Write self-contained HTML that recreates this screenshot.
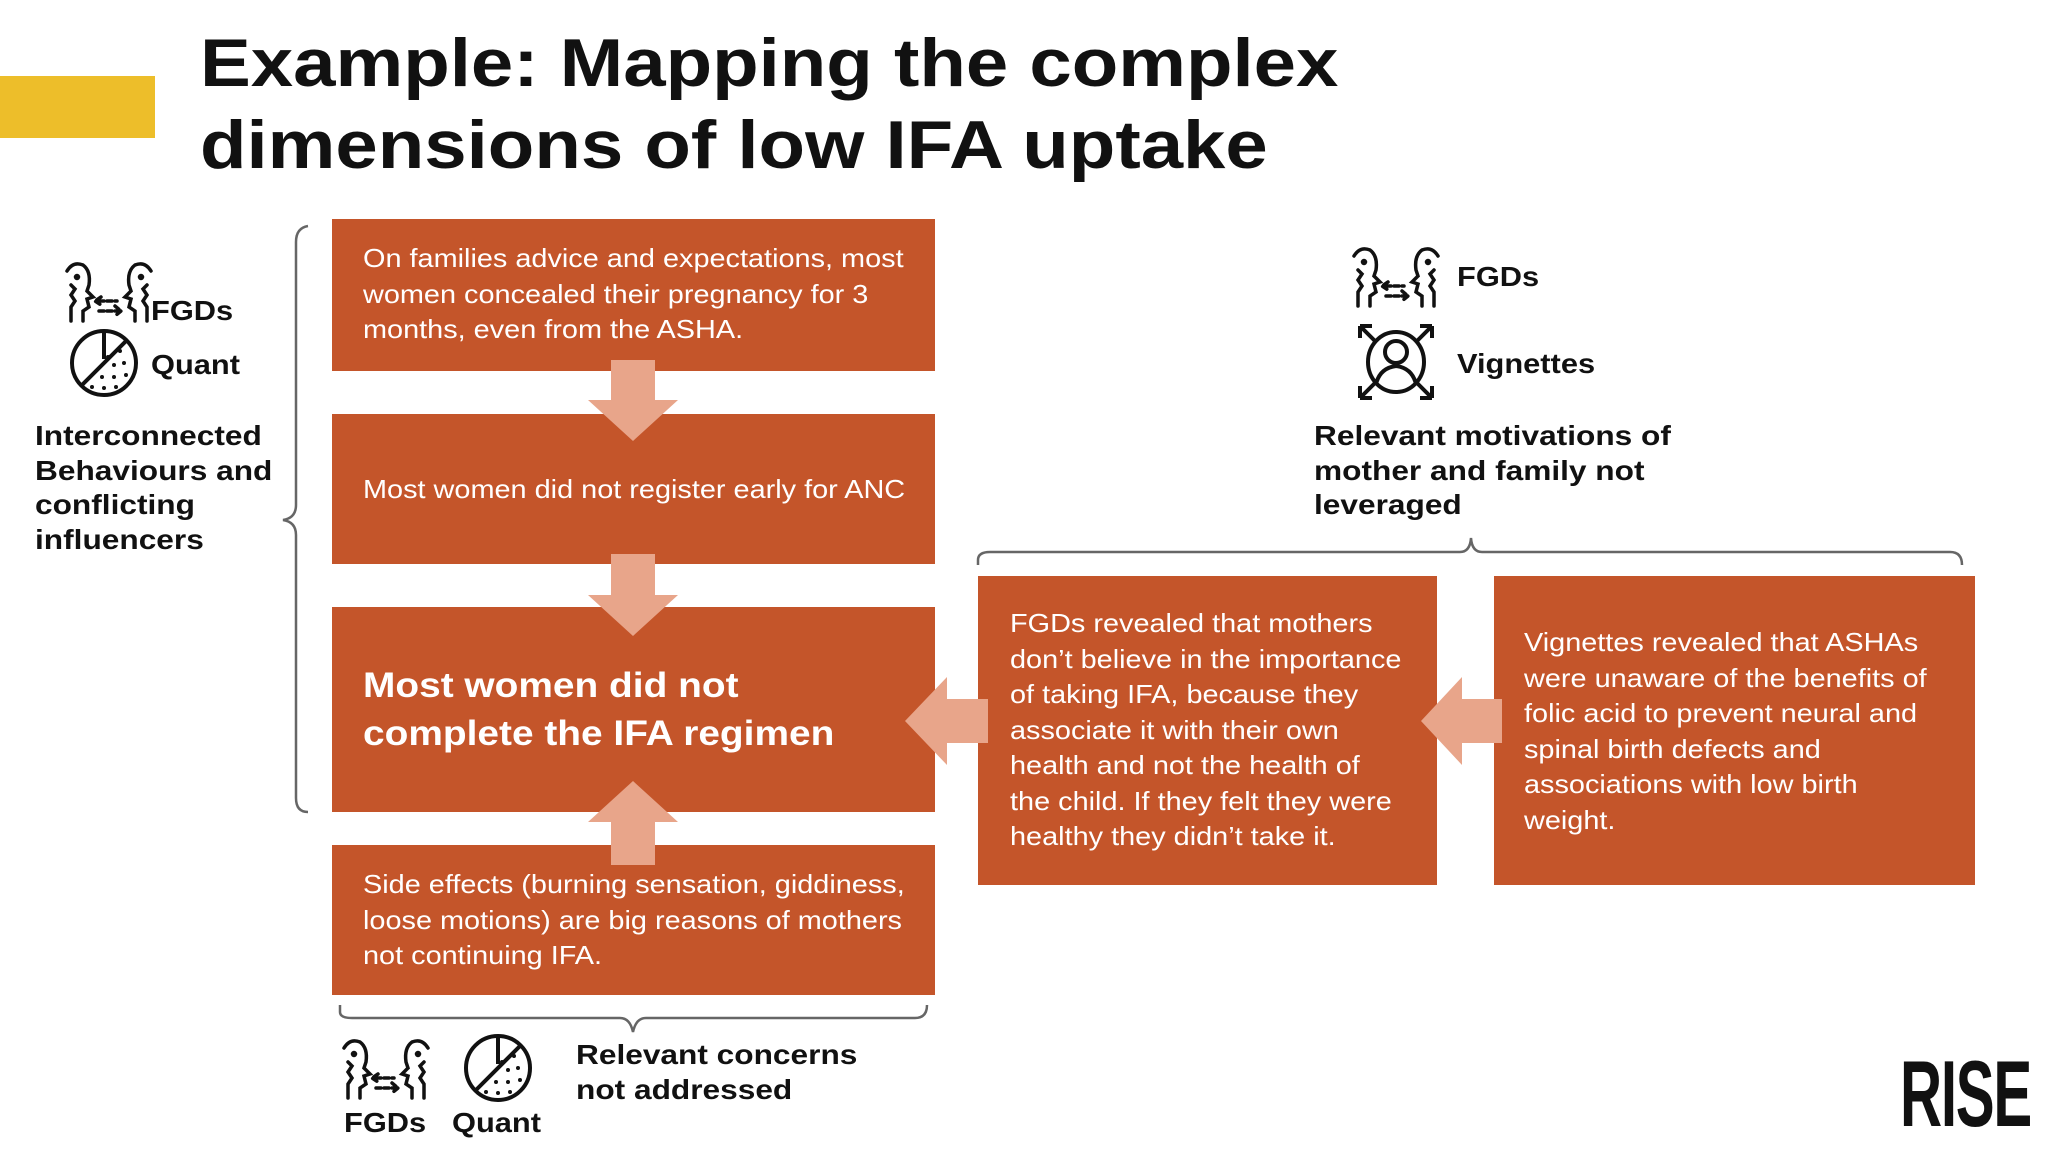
<!DOCTYPE html>
<html><head><meta charset="utf-8"><style>
body{margin:0;width:2048px;height:1154px;background:#fff;position:relative;overflow:hidden;font-family:"Liberation Sans",sans-serif;color:#111}
.a{position:absolute}
.box{position:absolute;background:#C4552A}
.t{position:absolute;color:#fff;font-size:26px;line-height:35.5px;white-space:nowrap;transform:scaleX(1.11);transform-origin:left top}
.lbl{position:absolute;font-weight:bold;font-size:28px;line-height:34.5px;white-space:nowrap;color:#111;transform:scaleX(1.13);transform-origin:left top}
.ic{position:absolute;font-weight:bold;font-size:28px;white-space:nowrap;color:#111;transform:scaleX(1.1);transform-origin:left top}
</style></head><body>
<div class="a" style="left:0;top:76px;width:155px;height:62px;background:#EDBE2A"></div>
<div class="a" style="left:200px;top:22px;font-weight:bold;font-size:68px;line-height:82px;white-space:nowrap;color:#111;transform:scaleX(1.12);transform-origin:left top">Example: Mapping the complex<br>dimensions of low IFA uptake</div>

<div class="box" style="left:332px;top:219px;width:603px;height:152px"></div>
<div class="box" style="left:332px;top:414px;width:603px;height:150px"></div>
<div class="box" style="left:332px;top:607px;width:603px;height:205px"></div>
<div class="box" style="left:332px;top:845px;width:603px;height:150px"></div>
<div class="box" style="left:978px;top:576px;width:459px;height:309px"></div>
<div class="box" style="left:1494px;top:576px;width:481px;height:309px"></div>

<svg class="a" style="left:0;top:0" width="2048" height="1154">
<g fill="#E8A58A">
<polygon points="611,360 655,360 655,400 678,400 633,441 588,400 611,400"/>
<polygon points="611,554 655,554 655,595 678,595 633,636 588,595 611,595"/>
<polygon points="611,865 655,865 655,822 678,822 633,781 588,822 611,822"/>
<polygon points="988,699 947,699 947,677 905,721 947,765 947,743 988,743"/>
<polygon points="1502,699 1462,699 1462,677 1421,721 1462,765 1462,743 1502,743"/>
</g>
<g fill="none" stroke="#666" stroke-width="2.5">
<path d="M308,226 Q296,228 296,242 L296,505 Q296,518 283,520 Q296,522 296,535 L296,798 Q296,812 308,812"/>
<path d="M978,565 L978,560 Q978,552 990,552 L1460,552 Q1470,552 1471,538 Q1472,552 1482,552 L1950,552 Q1962,552 1962,565"/>
<path d="M340,1005 L340,1012 Q340,1018 352,1018 L620,1018 Q630,1018 633,1032 Q636,1018 646,1018 L915,1018 Q927,1018 927,1005"/>
</g>
<defs>
<g id="fgd" fill="none" stroke="#111" stroke-width="3.5" stroke-linecap="round">
<path d="M2,10 Q8,0 18,4 Q26,10 24,24 L22,30 L28,36 L22,38 L24,46 L18,50 L18,60"/>
<path d="M6,24 L10,28 L6,34 L10,40 L6,46 L6,60"/>
<circle cx="12" cy="16" r="1.5" fill="#111"/>
<path d="M86,10 Q80,0 70,4 Q62,10 64,24 L66,30 L60,36 L66,38 L64,46 L70,50 L70,60"/>
<circle cx="76" cy="16" r="1.5" fill="#111"/>
<path d="M82,24 L78,28 L82,34 L78,40 L82,46 L82,60"/>
<path d="M36,36 L30,40 L36,44 M34,40 L52,40" stroke-dasharray="5 3"/>
<path d="M34,50 L56,50 M50,45 L56,50 L50,55" stroke-dasharray="5 3"/>
</g>
<g id="quant">
<circle cx="0" cy="0" r="32" fill="none" stroke="#111" stroke-width="4"/>
<path d="M0,-32 L0,-4 M-23,23 L23,-23" stroke="#111" stroke-width="4"/>
<g fill="#111"><circle cx="10" cy="2" r="2"/><circle cx="20" cy="0" r="2"/><circle cx="-2" cy="14" r="2"/><circle cx="10" cy="14" r="2"/><circle cx="22" cy="12" r="2"/><circle cx="-12" cy="24" r="2"/><circle cx="0" cy="25" r="2"/><circle cx="12" cy="24" r="2"/><circle cx="4" cy="-6" r="2"/><circle cx="16" cy="-12" r="2"/></g>
</g>
</defs>
<use href="#fgd" x="65" y="261"/>
<use href="#quant" x="104" y="363"/>
<use href="#fgd" x="1352" y="246"/>
<use href="#fgd" x="342" y="1038"/>
<use href="#quant" x="498" y="1068"/>
<g fill="none" stroke="#111" stroke-width="4">
<ellipse cx="1396" cy="362" rx="28" ry="30"/>
<circle cx="1396" cy="352" r="11"/>
<path d="M1376,384 Q1380,368 1396,366 Q1412,368 1416,384"/>
<path d="M1360,326 L1376,342 M1360,326 L1360,338 M1360,326 L1372,326"/>
<path d="M1432,326 L1416,342 M1432,326 L1432,338 M1432,326 L1420,326"/>
<path d="M1360,398 L1376,382 M1360,398 L1360,386 M1360,398 L1372,398"/>
<path d="M1432,398 L1416,382 M1432,398 L1432,386 M1432,398 L1420,398"/>
</g>
</svg>

<div class="t" style="left:363px;top:241px">On families advice and expectations, most<br>women concealed their pregnancy for 3<br>months, even from the ASHA.</div>
<div class="t" style="left:363px;top:472px">Most women did not register early for ANC</div>
<div class="t" style="left:363px;top:662px;font-weight:bold;font-size:35px;line-height:48px">Most women did not<br>complete the IFA regimen</div>
<div class="t" style="left:363px;top:867px">Side effects (burning sensation, giddiness,<br>loose motions) are big reasons of mothers<br>not continuing IFA.</div>
<div class="t" style="left:1010px;top:606px">FGDs revealed that mothers<br>don’t believe in the importance<br>of taking IFA, because they<br>associate it with their own<br>health and not  the health of<br>the child.  If they felt they were<br>healthy they didn’t take it.</div>
<div class="t" style="left:1524px;top:625px">Vignettes revealed that ASHAs<br>were unaware of the benefits of<br>folic acid to prevent neural and<br>spinal birth defects and<br>associations with low birth<br>weight.</div>

<div class="ic" style="left:151px;top:295px">FGDs</div>
<div class="ic" style="left:151px;top:349px">Quant</div>
<div class="lbl" style="left:35px;top:419px">Interconnected<br>Behaviours and<br>conflicting<br>influencers</div>

<div class="ic" style="left:1457px;top:261px">FGDs</div>
<div class="ic" style="left:1457px;top:348px">Vignettes</div>
<div class="lbl" style="left:1314px;top:419px">Relevant motivations of<br>mother and family not<br>leveraged</div>

<div class="ic" style="left:344px;top:1107px">FGDs</div>
<div class="ic" style="left:452px;top:1107px">Quant</div>
<div class="lbl" style="left:576px;top:1038px">Relevant concerns<br>not addressed</div>

<div class="a" style="left:1900px;top:1044px;font-weight:bold;font-size:94px;line-height:100px;letter-spacing:-2px;color:#111;transform:scaleX(0.62);transform-origin:left top">RISE</div>
</body></html>
